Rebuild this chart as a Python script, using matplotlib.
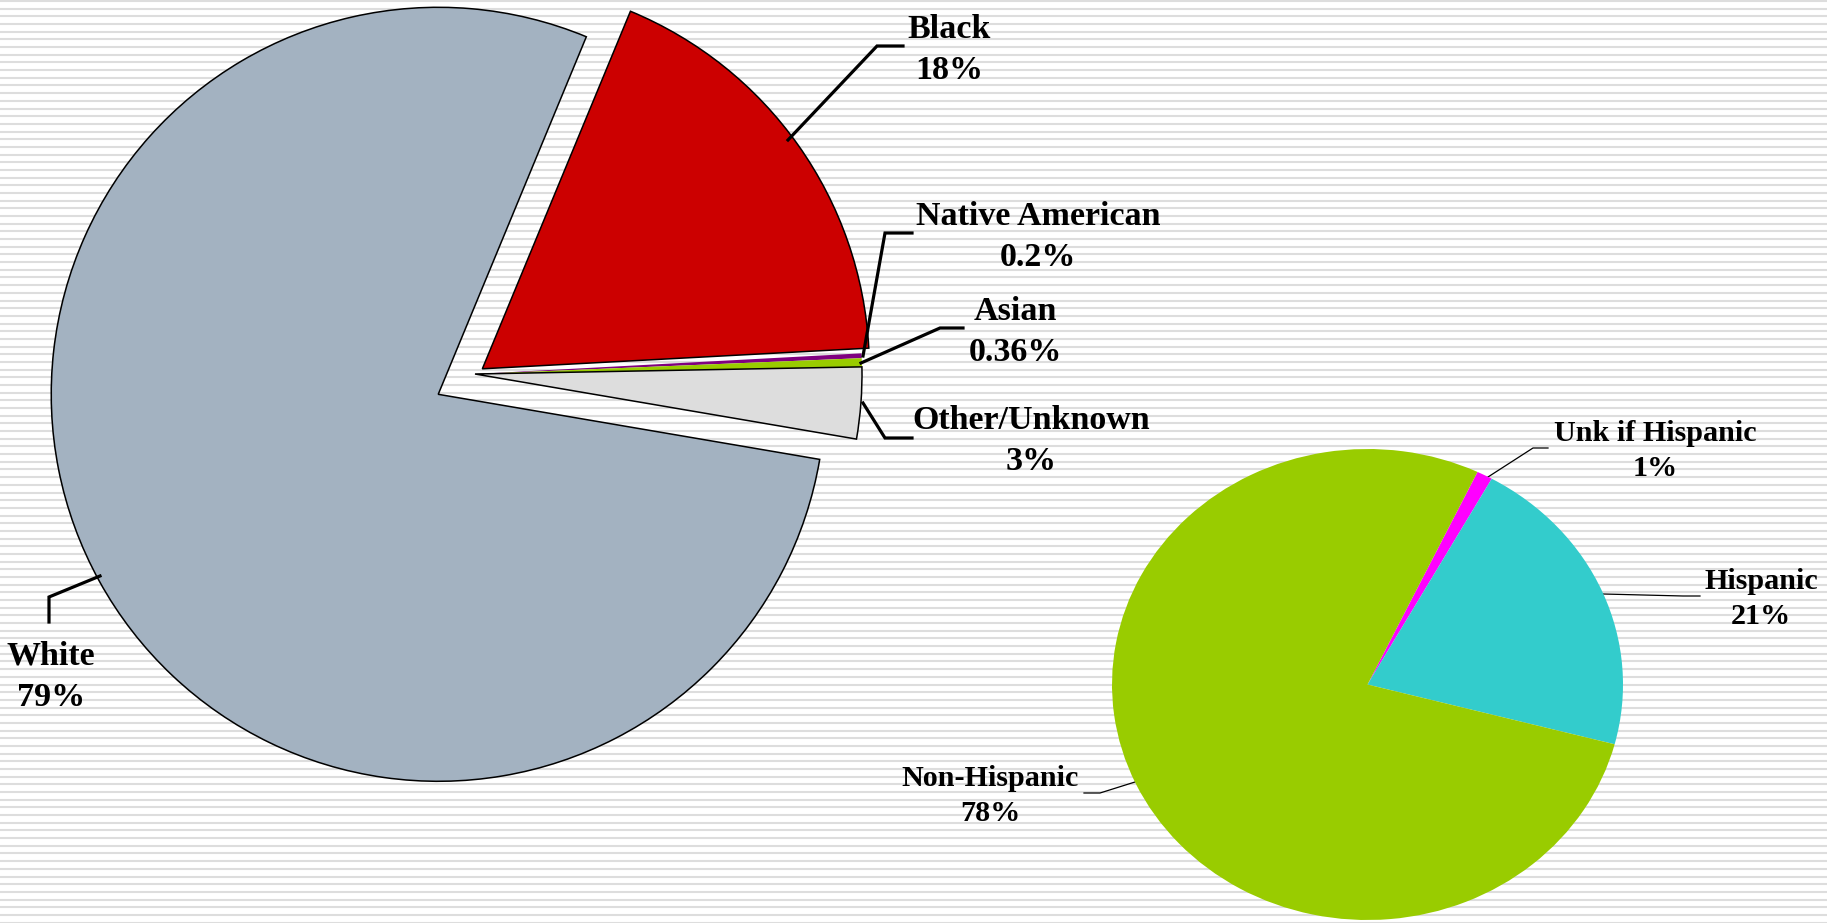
import matplotlib
matplotlib.use("Agg")
import matplotlib.pyplot as plt
import numpy as np

# Race breakdown
race_labels = ["Black", "Native American", "Asian", "Other/Unknown", "White"]
race_values = [18, 0.2, 0.36, 3, 79]
race_pct_text = ["18%", "0.2%", "0.36%", "3%", "79%"]
race_colors = ["#CC0000", "#800080", "#99CC00", "#DDDDDD", "#A3B2C1"]

# Ethnicity breakdown
eth_labels = ["Unk if Hispanic", "Hispanic", "Non-Hispanic"]
eth_values = [1, 21, 78]
eth_pct_text = ["1%", "21%", "78%"]
eth_colors = ["#FF00FF", "#33CCCC", "#99CC00"]

W, H = 1827, 923
fig = plt.figure(figsize=(W / 100, H / 100), dpi=100)
fig.patch.set_facecolor("white")

ax = fig.add_axes([0, 0, 1, 1])
ax.set_xlim(0, W)
ax.set_ylim(0, H)
ax.axis("off")


def Y(y):
    # image-style (top-down) pixel row to axes coordinate
    return H - y


# striped backdrop
for yy in np.arange(1.0, H, 7.68):
    ax.axhline(Y(yy), color="#DDDDDD", lw=1.5, zorder=0)

# --- race pie ---
wedges, _ = ax.pie(
    race_values,
    colors=race_colors,
    center=(475, Y(374)),
    radius=387,
    startangle=67.5,
    counterclock=False,
    explode=[9, 0, 0, 0, 42],
    wedgeprops=dict(edgecolor="black", linewidth=1.1),
    frame=True,
)
for i in (1, 2):
    wedges[i].set_edgecolor("none")
for w in wedges:
    w.set_zorder(2)
ax.set_xlim(0, W)
ax.set_ylim(0, H)
ax.set_aspect("auto")
ax.axis("off")

big = dict(family="Liberation Serif", weight="bold", fontsize=24.5,
           ha="center", va="center", multialignment="center", linespacing=1.45,
           zorder=5)

race_text_pos = {
    "Black": (949, 50),
    "Native American": (1038, 237),
    "Asian": (1015, 332),
    "Other/Unknown": (1031, 441),
    "White": (51, 677),
}
for lab, pct in zip(race_labels, race_pct_text):
    x, y = race_text_pos[lab]
    ax.text(x, Y(y), f"{lab}\n{pct}", **big)

race_leaders = {
    "Black": [(788, 140), (877, 46), (903, 46)],
    "Native American": [(863, 356), (885, 233), (912, 233)],
    "Asian": [(861, 363), (940, 328), (963, 328)],
    "Other/Unknown": [(863, 403), (885, 438), (912, 438)],
    "White": [(100, 576), (49, 597), (49, 622)],
}
for pts in race_leaders.values():
    xs = [p[0] for p in pts]
    ys = [Y(p[1]) for p in pts]
    ax.plot(xs, ys, color="black", lw=2.3, solid_joinstyle="miter", zorder=4)

# --- ethnicity pie (drawn slightly wider than tall) ---
left, right, top, bottom = 1112, 1623, 449, 920
ax2 = fig.add_axes([left / W, (H - bottom) / H, (right - left) / W, (bottom - top) / H])
ax2.pie(
    eth_values,
    colors=eth_colors,
    startangle=64.5,
    counterclock=False,
    radius=1,
    wedgeprops=dict(edgecolor="none"),
)
ax2.set_xlim(-1, 1)
ax2.set_ylim(-1, 1)
ax2.set_aspect("auto")
ax2.axis("off")
ax2.patch.set_visible(False)

small = dict(family="Liberation Serif", weight="bold", fontsize=21.7,
             ha="center", va="center", multialignment="center", linespacing=1.35,
             zorder=5)
eth_text_pos = {
    "Unk if Hispanic": (1655, 451),
    "Hispanic": (1761, 599),
    "Non-Hispanic": (990, 796),
}
for lab, pct in zip(eth_labels, eth_pct_text):
    x, y = eth_text_pos[lab]
    ax.text(x, Y(y), f"{lab}\n{pct}", **small)

eth_leaders = {
    "Unk if Hispanic": [(1488, 477), (1533, 448), (1548, 448)],
    "Hispanic": [(1603, 594), (1683, 596), (1700, 596)],
    "Non-Hispanic": [(1135, 782), (1100, 793), (1084, 793)],
}
for pts in eth_leaders.values():
    xs = [p[0] for p in pts]
    ys = [Y(p[1]) for p in pts]
    ax.plot(xs, ys, color="black", lw=0.9, zorder=6)

fig.savefig("out.png", dpi=100)
